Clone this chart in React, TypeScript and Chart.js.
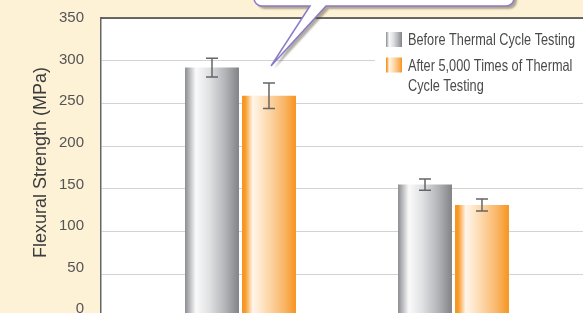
import { useEffect, useRef } from 'react';
import { Chart, registerables } from 'chart.js';

Chart.register(...registerables);

// ---- data ----
const categories = ['Group 1', 'Group 2'];
const categoryPositions = [1, 2];
const seriesLabels = ['Before Thermal Cycle Testing', 'After 5,000 Times of Thermal Cycle Testing'];
const beforeValues = [292, 155];
const beforeErrors = [11, 6.5];
const afterValues = [259, 131];
const afterErrors = [15, 7];
const yTicks = [0, 50, 100, 150, 200, 250, 300, 350];
const yTitle = 'Flexural Strength (MPa)';
const legendLines = [['Before Thermal Cycle Testing'], ['After 5,000 Times of Thermal', 'Cycle Testing']];

const FONT = '"Liberation Sans", Arial, Helvetica, sans-serif';

const grayStops: [number, string][] = [
  [0, '#8b8c90'], [0.08, '#b7b8bb'], [0.2, '#fafafa'], [0.45, '#e0e1e3'], [0.75, '#b2b3b6'], [1, '#828387'],
];
const orangeStops: [number, string][] = [
  [0, '#f7941d'], [0.06, '#f89a2a'], [0.2, '#fff6ea'], [0.5, '#fdd6a8'], [0.8, '#f9b363'], [1, '#f7941d'],
];

function makeGrad(ctx: CanvasRenderingContext2D, x0: number, x1: number, stops: [number, string][]) {
  const g = ctx.createLinearGradient(x0, 0, x1, 0);
  stops.forEach(([o, c]) => g.addColorStop(o, c));
  return g;
}

const customPlugin = {
  id: 'customDecor',
  beforeDraw(chart: any) {
    const { ctx, width, height, chartArea: a } = chart;
    ctx.save();
    ctx.fillStyle = '#fdf1d6';
    ctx.fillRect(0, 0, width, height);
    ctx.fillStyle = '#ffffff';
    ctx.fillRect(a.left, a.top, a.right - a.left, a.bottom - a.top);
    ctx.restore();
  },
  beforeDatasetsDraw(chart: any) {
    const ctx = chart.ctx;
    chart.data.datasets.forEach((_ds: any, di: number) => {
      const meta = chart.getDatasetMeta(di);
      meta.data.forEach((el: any) => {
        const p = el.getProps(['x', 'width'], true);
        const opts = Object.assign({}, el.options);
        opts.backgroundColor = makeGrad(ctx, p.x - p.width / 2, p.x + p.width / 2, di === 0 ? grayStops : orangeStops);
        el.options = opts;
      });
    });
  },
  afterDatasetsDraw(chart: any) {
    const ctx = chart.ctx;
    const yScale = chart.scales.y;
    ctx.save();
    ctx.strokeStyle = '#666666';
    ctx.lineWidth = 1.5;
    [beforeErrors, afterErrors].forEach((errs, di) => {
      const vals = di === 0 ? beforeValues : afterValues;
      const meta = chart.getDatasetMeta(di);
      meta.data.forEach((el: any, i: number) => {
        const x = el.x;
        const yt = yScale.getPixelForValue(vals[i] + errs[i]);
        const yb = yScale.getPixelForValue(vals[i] - errs[i]);
        ctx.beginPath();
        ctx.moveTo(x, yt); ctx.lineTo(x, yb);
        ctx.moveTo(x - 6, yt); ctx.lineTo(x + 6, yt);
        ctx.moveTo(x - 6, yb); ctx.lineTo(x + 6, yb);
        ctx.stroke();
      });
    });
    ctx.restore();
  },
  afterDraw(chart: any) {
    const { ctx, chartArea: a } = chart;
    ctx.save();
    // legend box
    ctx.fillStyle = '#ffffff';
    ctx.fillRect(375, a.top + 1, a.right - 375, 100 - a.top);
    ctx.fillStyle = makeGrad(ctx, 386, 402, grayStops);
    ctx.fillRect(386, 32, 16, 15);
    ctx.fillStyle = makeGrad(ctx, 386, 402, orangeStops);
    ctx.fillRect(386, 57.5, 16, 15);
    ctx.font = `16.5px ${FONT}`;
    ctx.fillStyle = '#4a4a4a';
    ctx.textAlign = 'left';
    ctx.textBaseline = 'alphabetic';
    const sx = 167 / ctx.measureText(legendLines[0][0]).width;
    const baselines = [[44.5], [71, 91]];
    legendLines.forEach((lines, li) => {
      lines.forEach((t, k) => {
        ctx.save();
        ctx.translate(408, baselines[li][k]);
        ctx.scale(sx, 1);
        ctx.fillText(t, 0, 0);
        ctx.restore();
      });
    });
    // top frame line
    ctx.strokeStyle = '#3d3d3d';
    ctx.lineWidth = 1.5;
    ctx.beginPath();
    ctx.moveTo(a.left, a.top);
    ctx.lineTo(a.right, a.top);
    ctx.stroke();
    // callout bubble
    const r = 8;
    ctx.beginPath();
    ctx.moveTo(254, -20);
    ctx.lineTo(254, 6 - r);
    ctx.arcTo(254, 6, 254 + r, 6, r);
    ctx.lineTo(310, 6);
    ctx.lineTo(271, 66);
    ctx.lineTo(326, 6);
    ctx.lineTo(514 - r, 6);
    ctx.arcTo(514, 6, 514, 6 - r, r);
    ctx.lineTo(514, -20);
    ctx.closePath();
    ctx.save();
    ctx.shadowColor = 'rgba(80,70,50,0.45)';
    ctx.shadowOffsetX = 3;
    ctx.shadowOffsetY = 3;
    ctx.shadowBlur = 2;
    ctx.fillStyle = '#ffffff';
    ctx.fill();
    ctx.restore();
    ctx.strokeStyle = '#8a7bc6';
    ctx.lineWidth = 1.5;
    ctx.stroke();
    // y title
    ctx.translate(46, 162.5);
    ctx.rotate(-Math.PI / 2);
    ctx.font = `18px ${FONT}`;
    ctx.fillStyle = '#3c3c3c';
    ctx.textAlign = 'center';
    ctx.textBaseline = 'alphabetic';
    ctx.fillText(yTitle, 0, 0);
    ctx.restore();
  },
};

export default function App() {
  const ref = useRef<HTMLCanvasElement>(null);
  useEffect(() => {
    document.documentElement.style.overflow = 'hidden';
    document.body.style.margin = '0';
    document.body.style.overflow = 'hidden';
    const chart = new Chart(ref.current!, {
      type: 'bar',
      data: {
        labels: categories,
        datasets: [
          {
            label: seriesLabels[0],
            data: categoryPositions.map((x, i) => ({ x, y: beforeValues[i] })),
            backgroundColor: () => '#aaaaaa',
            borderWidth: 0,
            categoryPercentage: 0.535,
            barPercentage: 0.947,
            xAxisID: 'x',
            yAxisID: 'y',
          },
          {
            label: seriesLabels[1],
            data: categoryPositions.map((x, i) => ({ x, y: afterValues[i] })),
            backgroundColor: () => '#f7941d',
            borderWidth: 0,
            categoryPercentage: 0.535,
            barPercentage: 0.947,
            xAxisID: 'x',
            yAxisID: 'y',
          },
        ] as any,
      },
      options: {
        animation: false,
        responsive: true,
        maintainAspectRatio: false,
        layout: { padding: { top: 18, bottom: 13, left: 0, right: 0 } },
        plugins: { legend: { display: false }, tooltip: { enabled: false } },
        scales: {
          x: {
            type: 'linear',
            display: false,
            offset: false,
            min: 0.3451,
            max: 2.608,
            afterBuildTicks: (s: any) => { s.ticks = categoryPositions.map((v) => ({ value: v })); },
          },
          yLabels: {
            type: 'linear',
            axis: 'y',
            position: 'left',
            weight: 1,
            min: -9.4,
            max: 350,
            grid: { display: false },
            border: { display: false },
            ticks: { color: '#555555', font: { family: FONT, size: 15 }, padding: 9 },
            afterBuildTicks: (s: any) => { s.ticks = yTicks.map((v) => ({ value: v })); },
            afterFit: (s: any) => { s.width = 101; },
          },
          y: {
            type: 'linear',
            position: 'left',
            weight: 0,
            min: 0,
            max: 350,
            ticks: { display: false, stepSize: 50 },
            grid: { color: '#d3d3d3', lineWidth: 1, drawTicks: false },
            border: { color: '#666666', width: 1.5 },
            afterFit: (s: any) => { s.width = 0; },
          },
        } as any,
      },
      plugins: [customPlugin],
    });
    return () => chart.destroy();
  }, []);
  return (
    <div style={{ position: 'relative', width: 583, height: 335 }}>
      <canvas ref={ref} />
    </div>
  );
}
